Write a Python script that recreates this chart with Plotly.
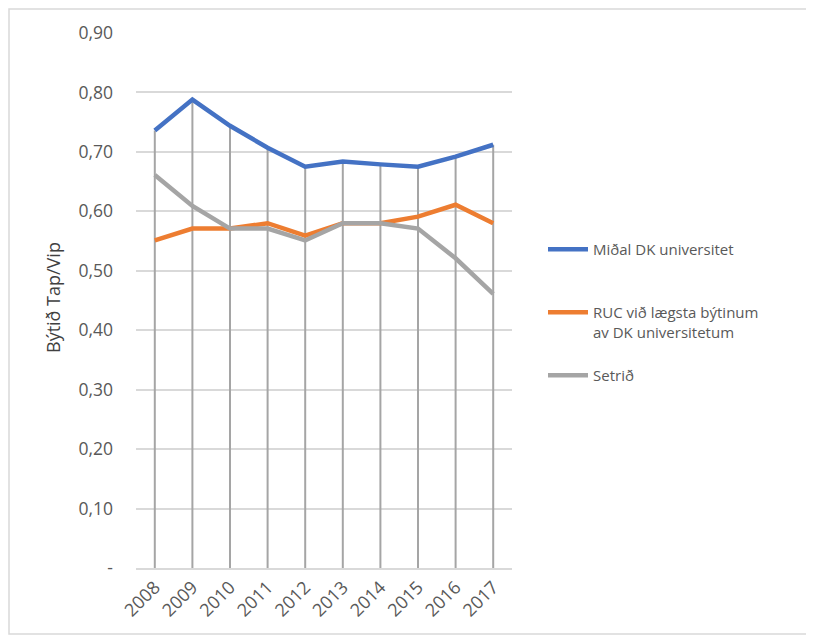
import plotly.graph_objects as go

years = ["2008", "2009", "2010", "2011", "2012", "2013", "2014", "2015", "2016", "2017"]
midal_dk = [0.736, 0.788, 0.744, 0.707, 0.675, 0.684, 0.679, 0.675, 0.692, 0.712]
ruc_lowest = [0.551, 0.571, 0.571, 0.580, 0.559, 0.580, 0.580, 0.591, 0.611, 0.580]
setrid = [0.661, 0.609, 0.571, 0.571, 0.551, 0.580, 0.580, 0.571, 0.521, 0.461]

series_names = ["Miðal DK universitet", "RUC við lægsta býtinum<br>av DK universitetum", "Setrið"]
series_colors = ["#4472c4", "#ed7d31", "#a5a5a5"]

y_ticks = [0, 0.1, 0.2, 0.3, 0.4, 0.5, 0.6, 0.7, 0.8, 0.9]
y_ticktext = ["-" if v == 0 else f"{v:.2f}".replace(".", ",") for v in y_ticks]
y_title = "Býtið Tap/Vip"

FONT = "Open Sans"
GREY_TXT = "#595959"

# page body has an 8px margin, so the figure is a bit smaller than the window
W, H = 806, 629
L, T, PW, PH = 128, 25, 376, 535

fig = go.Figure()

# drop lines, from the axis up to the highest point of the year
drop_x, drop_y = [], []
for i, yr in enumerate(years):
    top = max(midal_dk[i], ruc_lowest[i], setrid[i])
    drop_x += [yr, yr, None]
    drop_y += [0, top, None]
fig.add_trace(go.Scatter(x=drop_x, y=drop_y, mode="lines", line=dict(color="#a5a5a5", width=2),
                         showlegend=False, hoverinfo="skip"))

legend_ids = ["legend", "legend2", "legend3"]
for i, (name, vals) in enumerate(zip(series_names, [midal_dk, ruc_lowest, setrid])):
    fig.add_trace(go.Scatter(x=years, y=vals, mode="lines", name=name, legend=legend_ids[i],
                             line=dict(color=series_colors[i], width=4.5)))

# one legend box per entry so they sit evenly spaced like in Excel
legend_tops = [233, 296, 359]
for lid, top in zip(legend_ids, legend_tops):
    fig.update_layout({lid: dict(x=(543 - 8 - L) / PW, y=1 - (top - 8 - T) / PH,
                                 xanchor="left", yanchor="top", valign="top",
                                 font=dict(size=15, color=GREY_TXT), itemwidth=40)})

fig.update_layout(
    width=W, height=H,
    paper_bgcolor="white", plot_bgcolor="white",
    margin=dict(l=L, r=W - L - PW, t=T, b=H - T - PH, autoexpand=False),
    font=dict(family=FONT, size=15, color=GREY_TXT),
    shapes=[dict(type="rect", xref="paper", yref="paper",
                 x0=-(L - 1) / PW, x1=1 + (W - L - PW + 10) / PW,
                 y0=-(H - T - PH - 3) / PH, y1=1 + (T - 1) / PH,
                 line=dict(color="#d9d9d9", width=1.5), layer="below")],
    annotations=[dict(text=y_title, textangle=-90, xref="paper", yref="paper",
                      x=(53 - 8 - L) / PW, y=1 - (298 - 8 - T) / PH, xanchor="center", yanchor="middle",
                      showarrow=False, font=dict(size=18, color="#404040"))],
)
fig.update_xaxes(type="category", range=[-0.5, 9.5], showgrid=False, tickangle=-45,
                 showline=True, linecolor="#d9d9d9", linewidth=1.5, ticks="",
                 tickfont=dict(size=18, color=GREY_TXT))
fig.update_yaxes(range=[0, 0.9], tickvals=y_ticks, ticktext=y_ticktext, showgrid=True,
                 gridcolor="#d9d9d9", gridwidth=1.5, zeroline=False, ticks="", ticklabelstandoff=22,
                 tickfont=dict(size=17.5, color=GREY_TXT))

fig.write_html("out.html")
